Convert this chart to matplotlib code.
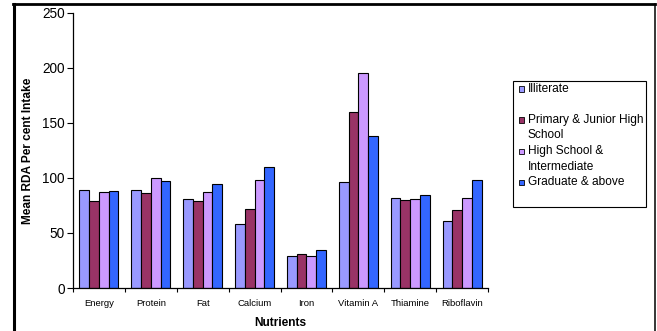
import numpy as np
import matplotlib.pyplot as plt
from matplotlib.patches import Rectangle
from matplotlib.lines import Line2D

plt.rcParams['font.family'] = ['Liberation Sans', 'DejaVu Sans']

nutrients = ['Energy', 'Protein', 'Fat', 'Calcium', 'Iron', 'Vitamin A', 'Thiamine', 'Riboflavin']
groups = ['Illiterate', 'Primary & Junior High\nSchool', 'High School &\nIntermediate', 'Graduate & above']
colors = ['#9999FF', '#993366', '#CC99FF', '#3366FF']

illiterate = [89, 89, 81, 58, 29, 96, 82, 61]
primary = [79, 86, 79, 72, 31, 160, 80, 71]
high_school = [87, 100, 87, 98, 29, 195, 81, 82]
graduate = [88, 97, 95, 110, 35, 138, 85, 98]
series = [illiterate, primary, high_school, graduate]

W, H = 657, 331
fig = plt.figure(figsize=(W / 100, H / 100), dpi=100)

# outer frame (left, top, right edges)
fig.add_artist(Line2D([13.5 / W, 13.5 / W], [0, 1 - 4 / H], color='black', lw=2.2, transform=fig.transFigure))
fig.add_artist(Line2D([12.5 / W, 655 / W], [1 - 4 / H, 1 - 4 / H], color='black', lw=2.0, transform=fig.transFigure))
fig.add_artist(Line2D([655 / W, 655 / W], [0, 1 - 4 / H], color='black', lw=1.1, transform=fig.transFigure))

ax = fig.add_axes([73 / W, 1 - 288 / H, (488 - 73) / W, (288 - 13) / H])

x = np.arange(len(nutrients)) + 0.5
bw = 0.1875
for k, vals in enumerate(series):
    ax.bar(x + (k - 1.5) * bw, vals, width=bw, color=colors[k], edgecolor='black', linewidth=0.8)

ax.set_xlim(0, len(nutrients))
ax.set_ylim(0, 250)
ax.set_yticks([0, 50, 100, 150, 200, 250])
ax.tick_params(axis='y', labelsize=9.8, length=4, width=0.8, pad=2)
ax.set_xticks(np.arange(len(nutrients) + 1))
ax.set_xticklabels([])
ax.set_xticks(x, minor=True)
ax.set_xticklabels(nutrients, minor=True, fontsize=6.8)
ax.tick_params(axis='x', which='major', length=3, width=0.8)
ax.tick_params(axis='x', which='minor', length=0, pad=8)
for s in ['top', 'right']:
    ax.spines[s].set_visible(False)
for s in ['left', 'bottom']:
    ax.spines[s].set_linewidth(0.9)

ax.set_ylabel('Mean RDA Per cent Intake', fontsize=8.6, fontweight='bold')
ax.yaxis.set_label_coords(-39 / 415, 0.5)
ax.set_xlabel('Nutrients', fontsize=8.6, fontweight='bold')
ax.xaxis.set_label_coords(0.5, -29 / 275)

# legend box drawn in pixel coordinates
fig.add_artist(Rectangle((513 / W, 1 - 207 / H), (646 - 513) / W, (207 - 81) / H,
                         facecolor='white', edgecolor='black', lw=0.8, transform=fig.transFigure))
line_idx = [0, 2, 4, 6]
for k, label in enumerate(groups):
    yy = 89 + 15.5 * line_idx[k]
    fig.add_artist(Rectangle((518.5 / W, 1 - (yy + 3) / H), 5.5 / W, 5.5 / H,
                             facecolor=colors[k], edgecolor='black', lw=0.6, transform=fig.transFigure))
    for j, part in enumerate(label.split('\n')):
        fig.text(528 / W, 1 - (yy + 15.5 * j) / H, part, fontsize=8.6, va='center', ha='left')

fig.savefig('out.png', dpi=100)
